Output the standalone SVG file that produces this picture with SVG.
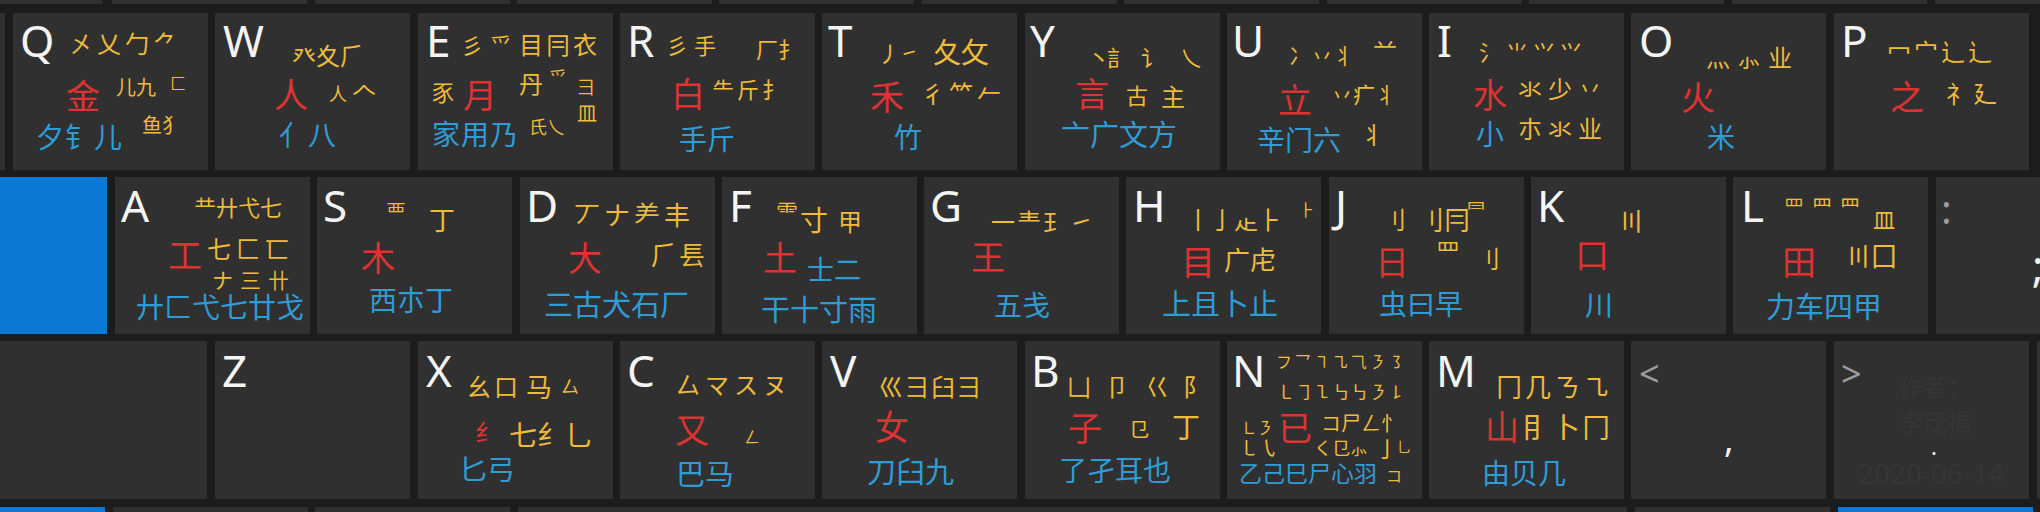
<svg xmlns="http://www.w3.org/2000/svg" width="2040" height="512" viewBox="0 0 2040 512">
<style>
.bg{fill:#1c1c1c}
.k{fill:#303030}
.bl{fill:#0c78d3}
text{font-family:"Noto Sans CJK SC","Noto Sans CJK JP","Noto Sans CJK TC",sans-serif}
.L{font-family:"Noto Sans","Liberation Sans",sans-serif;font-size:44px;fill:#f4f4f4}
.r{fill:#dd3333;font-size:34px}
.y{fill:#eebb3a;font-size:22px}
.b{fill:#2f9cd6;font-size:28px}
.g{font-family:"Noto Sans","Liberation Sans",sans-serif;fill:#9c9c9c;font-size:36px}
.w{font-family:"Noto Sans","Liberation Sans",sans-serif;fill:#f0f0f0;font-size:36px}
.f{fill:#363636}
</style>
<rect class="bg" x="0" y="0" width="2040" height="512"/>
<g id="frame-rows">
<rect class="k" x="-95" y="-150" width="197" height="154"/>
<rect class="k" x="112" y="-150" width="195" height="154"/>
<rect class="k" x="315" y="-150" width="195" height="154"/>
<rect class="k" x="517" y="-150" width="195" height="154"/>
<rect class="k" x="719" y="-150" width="195" height="154"/>
<rect class="k" x="922" y="-150" width="195" height="154"/>
<rect class="k" x="1124" y="-150" width="195" height="154"/>
<rect class="k" x="1327" y="-150" width="195" height="154"/>
<rect class="k" x="1529" y="-150" width="195" height="154"/>
<rect class="k" x="1732" y="-150" width="195" height="154"/>
<rect class="k" x="1935" y="-150" width="195" height="154"/>
<rect class="k" x="-100" y="13" width="105" height="157"/>
<rect class="bl" x="-100" y="177" width="207" height="157"/>
<rect class="k" x="1936" y="177" width="195" height="157"/>
<rect class="k" x="-100" y="341" width="307" height="158"/>
<rect class="k" x="2037" y="341" width="100" height="158"/>
<rect class="bl" x="-100" y="507" width="205" height="100"/>
<rect class="k" x="113" y="507" width="195" height="100"/>
<rect class="k" x="315" y="507" width="195" height="100"/>
<rect class="k" x="518" y="507" width="1109" height="100"/>
<rect class="k" x="1635" y="507" width="195" height="100"/>
<rect class="bl" x="1838" y="507" width="195" height="100"/>
</g>
<g id="connectors"></g>

<g id="key-Q">
<rect class="k" x="13" y="13" width="195" height="157"/>
<text class="L" x="20" y="57">Q</text>
<text class="y" x="69" y="53" style="font-size:24px;letter-spacing:4px">㐅乂勹⺈</text>
<text class="r" x="66" y="109">金</text>
<text class="y" x="116" y="95" style="font-size:20px">儿九</text>
<text class="y" x="170" y="89" style="font-size:16px">匚</text>
<text class="y" x="142" y="133" style="font-size:20px">鱼犭</text>
<text class="b" x="36" y="148" style="letter-spacing:1px">夕钅儿</text>
</g>

<g id="key-W">
<rect class="k" x="215" y="13" width="195" height="157"/>
<text class="L" x="223" y="57">W</text>
<text class="y" x="292" y="65" style="font-size:24px">癶夊⺁</text>
<text class="r" x="274" y="108">人</text>
<text class="y" x="329" y="101" style="font-size:18px">人</text>
<text class="y" x="352" y="100" style="font-size:24px">𠆢</text>
<text class="b" x="279" y="146" style="letter-spacing:1px">亻八</text>
</g>

<g id="key-E">
<rect class="k" x="418" y="13" width="195" height="157"/>
<text class="L" x="426" y="57">E</text>
<text class="y" x="461" y="54" style="letter-spacing:7px">彡爫</text>
<text class="y" x="519" y="54" style="font-size:24px;letter-spacing:3px">目冃衣</text>
<text class="y" x="432" y="101">豕</text>
<text class="r" x="463" y="108">月</text>
<text class="y" x="519" y="93" style="font-size:24px">丹</text>
<text class="y" x="549" y="85" style="font-size:18px">⺤</text>
<text class="y" x="577" y="94" style="font-size:18px">⺕</text>
<text class="b" x="432" y="145" style="letter-spacing:1px">家用乃</text>
<text class="y" x="529" y="134" style="font-size:18px">氏乀</text>
<text class="y" x="577" y="121" style="font-size:20px">皿</text>
</g>

<g id="key-R">
<rect class="k" x="620" y="13" width="195" height="157"/>
<text class="L" x="627" y="57">R</text>
<text class="y" x="666" y="54" style="font-size:22px;letter-spacing:6px">彡手</text>
<text class="y" x="756" y="58">厂扌</text>
<text class="r" x="671" y="107">白</text>
<text class="y" x="712" y="98" style="letter-spacing:3px">⺧斤扌</text>
<text class="b" x="679" y="150">手斤</text>
</g>

<g id="key-T">
<rect class="k" x="822" y="13" width="195" height="157"/>
<text class="L" x="828" y="57">T</text>
<text class="y" x="878" y="62">丿</text>
<text class="y" x="900" y="60" style="font-size:18px">㇀</text>
<text class="y" x="933" y="63" style="font-size:28px">夂攵</text>
<text class="r" x="870" y="110">禾</text>
<text class="y" x="921" y="103" style="font-size:24px;letter-spacing:4px">彳⺮𠂉</text>
<text class="b" x="894" y="148">竹</text>
</g>

<g id="key-Y">
<rect class="k" x="1025" y="13" width="195" height="157"/>
<text class="L" x="1030" y="57">Y</text>
<text class="y" x="1088" y="66">丶</text>
<text class="y" x="1107" y="66">訁</text>
<text class="y" x="1141" y="66">讠</text>
<text class="y" x="1180" y="66">乀</text>
<text class="r" x="1075" y="107">言</text>
<text class="y" x="1126" y="104">古</text>
<text class="y" x="1161" y="106" style="font-size:24px">主</text>
<text class="b" x="1061" y="146" style="font-size:29px">亠广文方</text>
</g>

<g id="key-U">
<rect class="k" x="1227" y="13" width="195" height="157"/>
<text class="L" x="1232" y="57">U</text>
<text class="y" x="1289" y="64">冫丷丬</text>
<text class="y" x="1373" y="55" style="font-size:24px">䒑</text>
<text class="r" x="1278" y="113">立</text>
<text class="y" x="1331" y="103">丷疒丬</text>
<text class="y" x="1361" y="144" style="font-size:24px">丬</text>
<text class="b" x="1257" y="151">辛门六</text>
</g>

<g id="key-I">
<rect class="k" x="1429" y="13" width="195" height="157"/>
<text class="L" x="1437" y="57">I</text>
<text class="y" x="1479" y="61" style="letter-spacing:5px">氵⺌⺍⺍</text>
<text class="r" x="1473" y="108">水</text>
<text class="y" x="1518" y="98" style="font-size:24px;letter-spacing:6px">氺少丷</text>
<text class="b" x="1476" y="145">小</text>
<text class="y" x="1518" y="138" style="font-size:24px;letter-spacing:6px">朩氺业</text>
</g>

<g id="key-O">
<rect class="k" x="1631" y="13" width="195" height="157"/>
<text class="L" x="1639" y="57">O</text>
<text class="y" x="1706" y="67" style="font-size:24px;letter-spacing:7px">灬⺗业</text>
<text class="r" x="1681" y="110">火</text>
<text class="b" x="1707" y="148">米</text>
</g>

<g id="key-P">
<rect class="k" x="1834" y="13" width="195" height="157"/>
<text class="L" x="1841" y="57">P</text>
<text class="y" x="1887" y="61" style="font-size:24px;letter-spacing:3px">冖宀辶⻌</text>
<text class="r" x="1890" y="110">之</text>
<text class="y" x="1946" y="103" style="font-size:24px;letter-spacing:3px">礻廴</text>
</g>

<g id="key-A">
<rect class="k" x="115" y="177" width="195" height="157"/>
<text class="L" x="121" y="222">A</text>
<text class="y" x="194" y="216">龷廾弋七</text>
<text class="r" x="168" y="268">工</text>
<text class="y" x="207" y="258" style="font-size:24px;letter-spacing:5px">七匚匸</text>
<text class="y" x="212" y="288" style="font-size:21px;letter-spacing:7px">ナ三卄</text>
<text class="b" x="136" y="318">廾匚弋七廿戈</text>
</g>

<g id="key-S">
<rect class="k" x="317" y="177" width="195" height="157"/>
<text class="L" x="323" y="222">S</text>
<text class="y" x="386" y="220" style="font-size:20px">覀</text>
<text class="y" x="429" y="230" style="font-size:26px">丁</text>
<text class="r" x="361" y="271">木</text>
<text class="b" x="369" y="311">西朩丁</text>
</g>

<g id="key-D">
<rect class="k" x="520" y="177" width="195" height="157"/>
<text class="L" x="526" y="222">D</text>
<text class="y" x="574" y="225" style="font-size:26px;letter-spacing:4px">丆ナ⺶丰</text>
<text class="r" x="568" y="271">大</text>
<text class="y" x="651" y="265" style="font-size:26px;letter-spacing:2px">⺁镸</text>
<text class="b" x="544" y="316" style="font-size:29px">三古犬石厂</text>
</g>

<g id="key-F">
<rect class="k" x="722" y="177" width="195" height="157"/>
<text class="L" x="729" y="222">F</text>
<text class="y" x="776" y="220">⻗</text>
<text class="y" x="800" y="231" style="font-size:28px">寸</text>
<text class="y" x="838" y="231" style="font-size:24px">甲</text>
<text class="r" x="763" y="271">土</text>
<text class="b" x="807" y="280" style="font-size:27px">士二</text>
<text class="b" x="761" y="321" style="font-size:29px">干十寸雨</text>
</g>

<g id="key-G">
<rect class="k" x="924" y="177" width="195" height="157"/>
<text class="L" x="930" y="222">G</text>
<text class="y" x="991" y="231" style="font-size:24px;letter-spacing:2px">一龶⺩㇀</text>
<text class="r" x="971" y="270">王</text>
<text class="b" x="994" y="316">五戋</text>
</g>

<g id="key-H">
<rect class="k" x="1126" y="177" width="195" height="157"/>
<text class="L" x="1133" y="222">H</text>
<text class="y" x="1186" y="229" style="font-size:24px">丨亅龰⺊</text>
<text class="y" x="1299" y="216" style="font-size:16px">⺊</text>
<text class="r" x="1181" y="275">目</text>
<text class="y" x="1224" y="270" style="font-size:26px">广虍</text>
<text class="b" x="1162" y="315" style="font-size:29px">上且卜止</text>
</g>

<g id="key-J">
<rect class="k" x="1329" y="177" width="195" height="157"/>
<text class="L" x="1335" y="222">J</text>
<text class="y" x="1382" y="229" style="font-size:24px">刂</text>
<text class="y" x="1418" y="230" style="font-size:26px">刂冃</text>
<text class="y" x="1466" y="218" style="font-size:20px">⺜</text>
<text class="r" x="1375" y="275">日</text>
<text class="y" x="1436" y="261" style="font-size:24px">罒</text>
<text class="y" x="1476" y="268" style="font-size:24px">刂</text>
<text class="b" x="1379" y="315">虫曰早</text>
</g>

<g id="key-K">
<rect class="k" x="1531" y="177" width="195" height="157"/>
<text class="L" x="1537" y="222">K</text>
<text class="y" x="1618" y="231" style="font-size:26px">〣</text>
<text class="r" x="1575" y="268">口</text>
<text class="b" x="1585" y="316">川</text>
</g>

<g id="key-L">
<rect class="k" x="1733" y="177" width="195" height="157"/>
<text class="L" x="1741" y="222">L</text>
<text class="y" x="1784" y="215" style="font-size:20px;letter-spacing:8px">罒⺫⺲</text>
<text class="y" x="1873" y="228">皿</text>
<text class="r" x="1782" y="275">田</text>
<text class="y" x="1845" y="266" style="font-size:26px">〣囗</text>
<text class="b" x="1766" y="318" style="font-size:29px">力车四甲</text>
</g>

<g id="key-semicolon">
<text class="g" x="1941" y="224" style="font-size:40px">:</text>
<text class="w" x="2032" y="282" style="font-size:44px">;</text>
</g>

<g id="key-Z">
<rect class="k" x="215" y="341" width="195" height="158"/>
<text class="L" x="222" y="387">Z</text>
</g>

<g id="key-X">
<rect class="k" x="418" y="341" width="195" height="158"/>
<text class="L" x="426" y="387">X</text>
<text class="y" x="467" y="396" style="font-size:24px;letter-spacing:3px">幺口</text>
<text class="y" x="526" y="397" style="font-size:26px">马</text>
<text class="y" x="561" y="394" style="font-size:18px">厶</text>
<text class="r" x="475" y="441" style="font-size:24px">纟</text>
<text class="y" x="509" y="446" style="font-size:28px">七纟乚</text>
<text class="b" x="459" y="480">匕弓</text>
</g>

<g id="key-C">
<rect class="k" x="620" y="341" width="195" height="158"/>
<text class="L" x="627" y="387">C</text>
<text class="y" x="676" y="394" style="font-size:24px;letter-spacing:5px">厶マスヌ</text>
<text class="r" x="675" y="443">又</text>
<text class="y" x="744" y="443" style="font-size:16px">ㄥ</text>
<text class="b" x="676" y="485" style="font-size:29px">巴马</text>
</g>

<g id="key-V">
<rect class="k" x="822" y="341" width="195" height="158"/>
<text class="L" x="830" y="387">V</text>
<text class="y" x="879" y="396" style="font-size:24px;letter-spacing:2px">巛彐臼彐</text>
<text class="r" x="875" y="440">女</text>
<text class="b" x="867" y="483" style="font-size:29px">刀臼九</text>
</g>

<g id="key-B">
<rect class="k" x="1025" y="341" width="195" height="158"/>
<text class="L" x="1031" y="387">B</text>
<text class="y" x="1067" y="396" style="font-size:24px">凵</text>
<text class="y" x="1105" y="396" style="font-size:24px">卩</text>
<text class="y" x="1145" y="396" style="font-size:24px">巜</text>
<text class="y" x="1183" y="396" style="font-size:24px">阝</text>
<text class="r" x="1068" y="441">子</text>
<text class="y" x="1129" y="437" style="font-size:20px">㔾</text>
<text class="y" x="1172" y="438" style="font-size:28px">丁</text>
<text class="b" x="1059" y="481">了孑耳也</text>
</g>

<g id="key-N">
<rect class="k" x="1227" y="341" width="195" height="158"/>
<text class="L" x="1232" y="387">N</text>
<text class="y" x="1276" y="368" style="font-size:16px;letter-spacing:2.7px">フ乛㇕㇈⺄㇋㇌</text>
<text class="y" x="1277" y="399" style="font-size:18px;letter-spacing:0.4px">㇄㇆㇅㇉㇉㇋㇙</text>
<text class="y" x="1241" y="434" style="font-size:16px">㇗㇋</text>
<text class="y" x="1239" y="456" style="font-size:20px">㇄㇂</text>
<text class="r" x="1278" y="441">已</text>
<text class="y" x="1321" y="431" style="font-size:20px">コ尸ㄥ忄</text>
<text class="y" x="1314" y="455" style="font-size:18px">く㔾⺗</text>
<text class="y" x="1376" y="457">亅</text>
<text class="y" x="1397" y="452" style="font-size:14px">乚</text>
<text class="b" x="1239" y="482" style="font-size:23px">乙己巳尸心羽</text>
<text class="y" x="1386" y="482" style="font-size:16px">コ</text>
</g>

<g id="key-M">
<rect class="k" x="1429" y="341" width="195" height="158"/>
<text class="L" x="1436" y="387">M</text>
<text class="y" x="1496" y="397" style="font-size:26px;letter-spacing:3px">冂几ㄋ㇈</text>
<text class="r" x="1485" y="440">山</text>
<text class="y" x="1522" y="438" style="font-size:28px;letter-spacing:2px">⺝卜冂</text>
<text class="b" x="1482" y="484">由贝几</text>
</g>

<g id="key-comma">
<rect class="k" x="1631" y="341" width="195" height="158"/>
<text class="g" x="1639" y="387">&lt;</text>
<text class="w" x="1724" y="452">,</text>
</g>

<g id="key-period">
<rect class="k" x="1834" y="341" width="195" height="158"/>
<text class="f" x="1899" y="396" style="font-size:24px">作者：</text>
<text class="f" x="1899" y="431" style="font-size:24px">李茂福</text>
<text class="f" x="1858" y="484" style="font-family:'Noto Sans','Liberation Sans',sans-serif;font-size:28px">2020-06-14</text>
<text class="g" x="1841" y="387">&gt;</text>
<text class="w" x="1931" y="455" style="font-size:22px">.</text>
</g>
</svg>
